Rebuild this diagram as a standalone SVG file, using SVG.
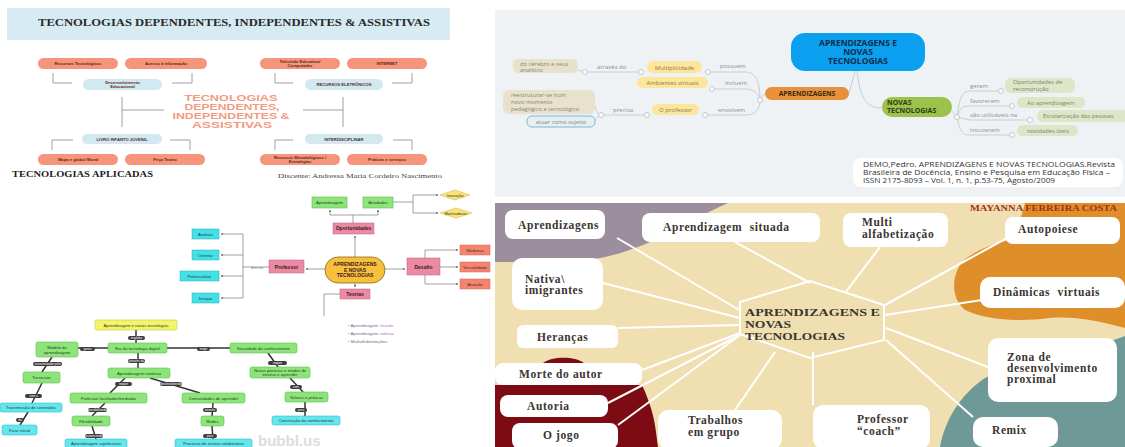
<svg xmlns="http://www.w3.org/2000/svg" width="1125" height="447" viewBox="0 0 1125 447">
<style>
.sal{fill:#f6957c}
.lb{fill:#d3e9f1}
.pt{font-family:"Liberation Sans",Arial,sans-serif;font-weight:bold;font-size:4.2px;fill:#5a2a1a;text-anchor:middle}
.br{fill:none;stroke:#a0a0a0;stroke-width:1}
.mm{fill:none;stroke:#c9ced2;stroke-width:1}
.dot{fill:#fff;stroke:#c3c8cc;stroke-width:1}
.lbl{font-family:"Open Sans","Liberation Sans",sans-serif;font-size:6px;fill:#8a8f94}
.yel{fill:#fde59a}
.ytx{font-family:"Open Sans","Liberation Sans",sans-serif;font-size:6px;fill:#8a7a50;text-anchor:middle}
.bei{fill:#e8e2cc}
.btx{font-family:"Open Sans","Liberation Sans",sans-serif;font-size:5.8px;fill:#8a8470}
.gn{fill:#dfe6c8}
.gtx{font-family:"Open Sans","Liberation Sans",sans-serif;font-size:5.8px;fill:#7a7f70}
.wn{fill:#fff}
.wt{font-family:"Liberation Serif","Times New Roman",serif;font-weight:bold;font-size:11.5px;fill:#3b3530;letter-spacing:0.6px}
.sp{stroke:#fff;stroke-width:2;fill:none}
.cl{stroke:#7a7a7a;stroke-width:0.7;fill:none}
.pk{fill:#ea8aa3;stroke:#c06080;stroke-width:0.5}
.cy{fill:#44e0e8;stroke:#20b0c0;stroke-width:0.5}
.rd{fill:#f7826f;stroke:#d06050;stroke-width:0.5}
.gr{fill:#8de57a;stroke:#5cbf4a;stroke-width:0.6}
.tc{fill:#63e6ee;stroke:#36bcd0;stroke-width:0.6}
.t4{font-family:"Liberation Sans",Arial,sans-serif;font-size:4.2px;fill:#2a3a2a;text-anchor:middle}
.t5b{font-family:"Liberation Sans",Arial,sans-serif;font-size:5px;font-weight:bold;fill:#3a1a22;text-anchor:middle}
.pl{fill:#3d3d3d}
.plt{font-family:"Liberation Sans",Arial,sans-serif;font-size:3.2px;fill:#fff;text-anchor:middle}
.ln{stroke:#333;stroke-width:1.5;fill:none}
</style>
<defs>
<marker id="ah" viewBox="0 0 6 6" refX="5" refY="3" markerWidth="4" markerHeight="4" orient="auto">
<path d="M0,0 L6,3 L0,6 Z" fill="#777"/>
</marker>
</defs>
<rect width="1125" height="447" fill="#ffffff"/>

<!-- ===== Panel 1: top-left ===== -->
<g id="panel-tl">
<rect x="7" y="8" width="443" height="32" fill="#d6ebf2"/>
<text x="234" y="26" font-family="Liberation Serif,serif" font-weight="bold" font-size="9.5" text-anchor="middle" textLength="392" lengthAdjust="spacingAndGlyphs" fill="#2a2a2a">TECNOLOGIAS DEPENDENTES, INDEPENDENTES &amp; ASSISTIVAS</text>
<g id="tl-connectors">
<path class="br" d="M53,73 V83 H72 M192,73 V83 H172 M122,97 V127 M122,110 H164"/>
<path class="br" d="M275,73 V83 H293 M412,73 V83 H392 M343,97 V127 M303,110 H343"/>
<path class="br" d="M52,150 V140 H73 M190,150 V140 H170"/>
<path class="br" d="M275,150 V140 H293 M412,150 V140 H393"/>
</g>
<g id="tl-recursos"><rect class="sal" x="38" y="58" width="80" height="11" rx="5.5"/><text class="pt" x="78" y="65">Recursos Tecnológicos</text></g>
<g id="tl-acesso"><rect class="sal" x="125" y="58" width="82" height="11" rx="5.5"/><text class="pt" x="166" y="65">Acesso à informação</text></g>
<g id="tl-desenv"><rect class="lb" x="83" y="79" width="79" height="11" rx="5.5"/><text class="pt" x="122.5" y="83.8">Desenvolvimento</text><text class="pt" x="122.5" y="88.3">Educacional</text></g>
<g id="tl-tv"><rect class="sal" x="260" y="58" width="80" height="11" rx="5.5"/><text class="pt" x="300" y="62.6">Televisão Educativa/</text><text class="pt" x="300" y="67">Computador</text></g>
<g id="tl-internet"><rect class="sal" x="347" y="58" width="80" height="11" rx="5.5"/><text class="pt" x="387" y="65">INTERNET</text></g>
<g id="tl-eletr"><rect class="lb" x="305" y="79" width="78" height="11" rx="5.5"/><text class="pt" x="344" y="86">RECURSOS ELETRÔNICOS</text></g>
<g id="tl-center" font-family="Liberation Sans,Arial,sans-serif" font-weight="bold" font-size="9" fill="#f39a80" text-anchor="middle">
<text x="231" y="101" textLength="93" lengthAdjust="spacingAndGlyphs">TECNOLOGIAS</text>
<text x="232" y="110" textLength="95" lengthAdjust="spacingAndGlyphs">DEPENDENTES,</text>
<text x="231" y="119" textLength="117" lengthAdjust="spacingAndGlyphs">INDEPENDENTES &amp;</text>
<text x="232" y="127.5" textLength="80" lengthAdjust="spacingAndGlyphs">ASSISTIVAS</text>
</g>
<g id="tl-livro"><rect class="lb" x="82" y="134" width="80" height="10" rx="5"/><text class="pt" x="122" y="140.5">LIVRO INFANTO JUVENIL</text></g>
<g id="tl-inter"><rect class="lb" x="305" y="134" width="78" height="10" rx="5"/><text class="pt" x="344" y="140.5">INTERDISCIPLINAR</text></g>
<g id="tl-mapa"><rect class="sal" x="38" y="154" width="80" height="11" rx="5.5"/><text class="pt" x="78" y="161">Mapa e globo/ Mural</text></g>
<g id="tl-peca"><rect class="sal" x="125" y="154" width="80" height="11" rx="5.5"/><text class="pt" x="165" y="161">Peça Teatro</text></g>
<g id="tl-metod"><rect class="sal" x="260" y="154" width="80" height="11" rx="5.5"/><text class="pt" x="300" y="158.6">Recursos Metodológicos /</text><text class="pt" x="300" y="163">Estratégias</text></g>
<g id="tl-praticas"><rect class="sal" x="347" y="154" width="80" height="11" rx="5.5"/><text class="pt" x="387" y="161">Práticas e serviços</text></g>
<text x="12" y="177" font-family="Liberation Serif,serif" font-weight="bold" font-size="8" textLength="141" lengthAdjust="spacingAndGlyphs" fill="#222">TECNOLOGIAS APLICADAS</text>
<text x="278" y="178" font-family="Liberation Serif,serif" font-size="6.5" textLength="164" lengthAdjust="spacingAndGlyphs" fill="#444">Discente: Andressa Maria Cordeiro Nascimento</text>
</g>

<!-- ===== Panel 2: top-right mind map ===== -->
<g id="panel-tr">
<rect x="495" y="10" width="630" height="187" fill="#eef2f5"/>
<g id="tr-connectors">
<path class="mm" d="M855,71 C853,80 851,86 849,93"/>
<path class="mm" d="M857,71 C860,95 864,108 882,108"/>
<path class="mm" d="M765,94 C762,96 760,98 760,100"/>
<path class="mm" d="M760,100 C760,80 755,72 745,72 L708,72"/>
<path class="mm" d="M760,100 C759,93 753,89 745,89 L712,89"/>
<path class="mm" d="M760,100 C760,110 755,115 745,115 L705,115"/>
<path class="mm" d="M641,72 L585,72 L578,70"/>
<path class="mm" d="M647,115 L601,115 C597,115 596,110 595,105 M601,115 C597,116 596,119 595,121"/>
<path class="mm" d="M952,111 L957,117"/>
<path class="mm" d="M957,117 C960,96 962,91 970,91 L1001,91"/>
<path class="mm" d="M957,117 C960,108 962,106 970,106 L1012,106"/>
<path class="mm" d="M957,117 L970,120 L1030,120"/>
<path class="mm" d="M957,117 C960,132 962,135 970,135 L1012,135"/>
<circle class="dot" cx="708" cy="72" r="2.5"/><circle class="dot" cx="712" cy="89" r="2.5"/><circle class="dot" cx="705" cy="115" r="2.5"/>
<circle class="dot" cx="760" cy="100" r="2.5"/><circle class="dot" cx="641" cy="72" r="2.5"/><circle class="dot" cx="585" cy="72" r="2.5"/>
<circle class="dot" cx="647" cy="115" r="2.5"/><circle class="dot" cx="601" cy="115" r="2.5"/><circle class="dot" cx="957" cy="117" r="2.5"/>
<circle class="dot" cx="1001" cy="91" r="2.5"/><circle class="dot" cx="1012" cy="106" r="2.5"/><circle class="dot" cx="1030" cy="120" r="2.5"/><circle class="dot" cx="1012" cy="135" r="2.5"/>
<text class="lbl" x="720" y="68">possuem</text>
<text class="lbl" x="725" y="85">incluem</text>
<text class="lbl" x="718" y="112">envolvem</text>
<text class="lbl" x="597" y="69">através do</text>
<text class="lbl" x="613" y="112">precisa</text>
<text class="lbl" x="970" y="88">geram</text>
<text class="lbl" x="970" y="103">favorecem</text>
<text class="lbl" x="970" y="117">são utilizáveis na</text>
<text class="lbl" x="970" y="132">trouxeram</text>
</g>
<g id="tr-central"><rect x="791" y="33" width="134" height="38" rx="14" fill="#0aa0ef"/>
<g font-family="Open Sans,Liberation Sans,sans-serif" font-weight="bold" font-size="8.5" fill="#0f2d47" text-anchor="middle"><text x="858" y="46">APRENDIZAGENS E</text><text x="858" y="55">NOVAS</text><text x="858" y="64">TECNOLOGIAS</text></g></g>
<g id="tr-aprend"><rect x="765" y="87" width="84" height="13" rx="6.5" fill="#e8913a"/><text x="807" y="96" font-family="Open Sans,Liberation Sans,sans-serif" font-weight="bold" font-size="6.8" fill="#3a2a10" text-anchor="middle">APRENDIZAGENS</text></g>
<g id="tr-novas"><rect x="882" y="97" width="70" height="20" rx="10" fill="#9bc24a"/><g font-family="Open Sans,Liberation Sans,sans-serif" font-weight="bold" font-size="7" fill="#2b3a1a"><text x="887" y="105">NOVAS</text><text x="887" y="113">TECNOLOGIAS</text></g></g>
<g id="tr-mult"><rect class="yel" x="647" y="61" width="55" height="12" rx="6"/><text class="ytx" x="674.5" y="69.5">Multiplicidade</text></g>
<g id="tr-amb"><rect class="yel" x="637" y="77" width="71" height="11" rx="5.5"/><text class="ytx" x="672.5" y="85">Ambientes virtuais</text></g>
<g id="tr-prof"><rect class="yel" x="652" y="104" width="47" height="11" rx="5.5"/><text class="ytx" x="675.5" y="112">O professor</text></g>
<g id="tr-cerebro"><rect class="bei" x="513" y="59" width="65" height="14" rx="5"/><text class="btx" x="520" y="65.5">do cérebro e seus</text><text class="btx" x="520" y="71.5">analítico</text></g>
<g id="tr-reestr"><rect class="bei" x="503" y="90" width="92" height="24" rx="6"/><text class="btx" x="511" y="97">reestruturar-se num</text><text class="btx" x="511" y="104">novo momento</text><text class="btx" x="511" y="111">pedagógico e tecnológico</text></g>
<g id="tr-atuar"><rect x="527" y="116" width="68" height="11" rx="5" fill="#e6f0f2" stroke="#79b8d8" stroke-width="1"/><text class="btx" x="561" y="123.5" text-anchor="middle">atuar como sujeito</text></g>
<g id="tr-oport"><rect class="gn" x="1005" y="78" width="70" height="15" rx="6"/><text class="gtx" x="1013" y="84">Oportunidades de</text><text class="gtx" x="1013" y="90.5">reconstrução</text></g>
<g id="tr-ao"><rect class="gn" x="1017" y="97" width="68" height="11" rx="5.5"/><text class="gtx" x="1027" y="104.5">Ao aprendizagem</text></g>
<g id="tr-escol"><rect class="gn" x="1037" y="110" width="92" height="12" rx="6"/><text class="gtx" x="1043" y="118">Escolarização das pessoas</text></g>
<g id="tr-novid"><rect class="gn" x="1017" y="125" width="61" height="11" rx="5.5"/><text class="gtx" x="1027" y="132.5">novidades úteis</text></g>
<g id="tr-cite"><rect x="853" y="158" width="270" height="29" rx="8" fill="#fff"/>
<g font-family="Open Sans,Liberation Sans,sans-serif" font-size="6.6" fill="#333"><text x="863" y="167" textLength="252" lengthAdjust="spacingAndGlyphs">DEMO,Pedro. APRENDIZAGENS E NOVAS TECNOLOGIAS.Revista</text><text x="863" y="175" textLength="247" lengthAdjust="spacingAndGlyphs">Brasileira de Docência, Ensino e Pesquisa em Educação Física –</text><text x="863" y="183" textLength="192" lengthAdjust="spacingAndGlyphs">ISSN 2175-8093 – Vol. 1, n. 1, p.53-75, Agosto/2009</text></g></g>
</g>

<!-- ===== Panel 3: bottom-left maps ===== -->
<g id="panel-bl">
<g id="bl-connectors">
<path class="cl" d="M355,257 V236" marker-end="url(#ah)"/>
<path class="cl" d="M353,223 V215 M330,215 H378"/>
<path class="cl" d="M330,215 V210" marker-end="url(#ah)"/>
<path class="cl" d="M378,215 V210" marker-end="url(#ah)"/>
<path class="cl" d="M393,202 H413 M413,195 V213"/>
<path class="cl" d="M413,195 H438" marker-end="url(#ah)"/>
<path class="cl" d="M413,213 H438" marker-end="url(#ah)"/>
<path class="cl" d="M325,269 H306" marker-end="url(#ah)"/>
<path class="cl" d="M269,267 H243 M243,234 V298"/>
<path class="cl" d="M243,234 H221" marker-end="url(#ah)"/>
<path class="cl" d="M243,255 H221" marker-end="url(#ah)"/>
<path class="cl" d="M243,276 H221" marker-end="url(#ah)"/>
<path class="cl" d="M243,298 H221" marker-end="url(#ah)"/>
<path class="cl" d="M385,269 H405" marker-end="url(#ah)"/>
<path class="cl" d="M425,258 V250 H458" marker-end="url(#ah)"/>
<path class="cl" d="M440,267 H458" marker-end="url(#ah)"/>
<path class="cl" d="M425,275 V284 H458" marker-end="url(#ah)"/>
<path class="cl" d="M355,283 V287" marker-end="url(#ah)"/>
<path class="cl" d="M340,294 H324 V316"/>
<text x="251" y="268.5" font-family="Liberation Sans,sans-serif" font-size="3.2" fill="#777">deve ser</text>
</g>
<g id="bl-center"><rect x="325" y="257" width="60" height="26" rx="13" fill="#f6c03c" stroke="#7a5a10" stroke-width="0.7"/><text class="t5b" x="355" y="266">APRENDIZAGENS</text><text class="t5b" x="355" y="271.5">E NOVAS</text><text class="t5b" x="355" y="277">TECNOLOGIAS</text></g>
<g id="bl-oport"><rect class="pk" x="333" y="223" width="41" height="11"/><text class="t5b" x="353.5" y="230.3">Oportunidades</text></g>
<g id="bl-aprend"><rect class="gr" x="312" y="197" width="35" height="11"/><text class="t4" x="329.5" y="204">Aprendizagem</text></g>
<g id="bl-ativ"><rect class="gr" x="363" y="197" width="30" height="11"/><text class="t4" x="378" y="204">Atividades</text></g>
<g id="bl-inov"><path d="M440,195 L455,190 L470,195 L455,200 Z" fill="#fde27a" stroke="#d6b040" stroke-width="0.5"/><text class="t4" x="455" y="196.5" font-size="3.6">Inovação</text></g>
<g id="bl-motiv"><path d="M440,213 L456,208 L472,213 L456,218 Z" fill="#fde27a" stroke="#d6b040" stroke-width="0.5"/><text class="t4" x="456" y="214.5" font-size="3.6">Motivadoras</text></g>
<g id="bl-prof"><rect class="pk" x="269" y="260" width="35" height="13"/><text class="t5b" x="286.5" y="268.5">Professor</text></g>
<g id="bl-c1"><rect class="cy" x="192" y="229" width="27" height="10"/><text class="t4" x="205.5" y="235.5">Analisar</text></g>
<g id="bl-c2"><rect class="cy" x="192" y="250" width="27" height="10"/><text class="t4" x="205.5" y="256.5">Orientar</text></g>
<g id="bl-c3"><rect class="cy" x="180" y="271" width="39" height="10"/><text class="t4" x="199.5" y="277.5">Potencializar</text></g>
<g id="bl-c4"><rect class="cy" x="192" y="293" width="27" height="10"/><text class="t4" x="205.5" y="299.5">Instigar</text></g>
<g id="bl-desafio"><rect class="pk" x="407" y="258" width="33" height="17"/><text class="t5b" x="423.5" y="268.5">Desafio</text></g>
<g id="bl-r1"><rect class="rd" x="460" y="245" width="30" height="10"/><text class="t4" x="475" y="251.5">Mudança</text></g>
<g id="bl-r2"><rect class="rd" x="460" y="262" width="30" height="10"/><text class="t4" x="475" y="268.5" font-size="3.8">Versatilidade</text></g>
<g id="bl-r3"><rect class="rd" x="460" y="279" width="30" height="10"/><text class="t4" x="475" y="285.5">Atuação</text></g>
<g id="bl-teorias"><rect class="pk" x="340" y="289" width="30" height="10"/><text class="t5b" x="355" y="295.8">Teorias</text></g>
<g id="bl-list" font-family="Liberation Sans,sans-serif" font-size="4.3" fill="#7a6a8a"><text x="348" y="327">• Aprendizagem <tspan fill="#b07ac8">situada</tspan></text><text x="348" y="335">• Aprendizagem <tspan fill="#b07ac8">coletiva</tspan></text><text x="348" y="343">• Multialfabetizações.</text></g>

<g id="cm-connectors">
<path class="ln" d="M136,330 V343 M108,348 H78 M167,348 H230 M52,357 L42,372 M42,383 L32,403 M28,412 L20,425 M138,353 V368 M125,378 L110,393 M150,378 L200,393 M105,403 L92,416 M213,403 L212,416 M92,426 L96,439 M212,426 L213,439 M268,353 L278,367 M290,378 L303,392 M305,402 L305,416"/>
<rect class="pl" x="128" y="336" width="17" height="4" rx="2"/><text class="plt" x="136.5" y="339">engloba</text>
<rect class="pl" x="80" y="347" width="15" height="4" rx="2"/><text class="plt" x="87.5" y="350">gerou</text>
<rect class="pl" x="197" y="347" width="13" height="4" rx="2"/><text class="plt" x="203.5" y="350">exige</text>
<rect class="pl" x="33" y="362" width="29" height="4" rx="2"/><text class="plt" x="47.5" y="365">caracterizado pelo</text>
<rect class="pl" x="25" y="394" width="17" height="4" rx="2"/><text class="plt" x="33.5" y="397">com a</text>
<rect class="pl" x="16" y="418" width="8" height="4" rx="2"/><text class="plt" x="20" y="421">da</text>
<rect class="pl" x="128" y="359" width="17" height="4" rx="2"/><text class="plt" x="136.5" y="362">através da</text>
<rect class="pl" x="115" y="382" width="17" height="4" rx="2"/><text class="plt" x="123.5" y="385">requer</text>
<rect class="pl" x="160" y="382" width="22" height="4" rx="2"/><text class="plt" x="171" y="385">desenvolvendo</text>
<rect class="pl" x="88" y="408" width="19" height="4" rx="2"/><text class="plt" x="97.5" y="411">possibilitando</text>
<rect class="pl" x="203" y="408" width="14" height="4" rx="2"/><text class="plt" x="210" y="411">através</text>
<rect class="pl" x="85" y="434" width="18" height="4" rx="2"/><text class="plt" x="94" y="437">favorecendo</text>
<rect class="pl" x="203" y="434" width="14" height="4" rx="2"/><text class="plt" x="210" y="437">para</text>
<rect class="pl" x="268" y="361" width="19" height="4" rx="2"/><text class="plt" x="277.5" y="364">requer</text>
<rect class="pl" x="290" y="385" width="12" height="4" rx="2"/><text class="plt" x="296" y="388">com</text>
<rect class="pl" x="295" y="408" width="12" height="4" rx="2"/><text class="plt" x="301" y="411">para</text>
</g>
<g id="cm-n1"><rect x="95" y="320" width="82" height="10" rx="2" fill="#f4f46a" stroke="#c9c940" stroke-width="0.6"/><text class="t4" x="136" y="326.5">Aprendizagem e novas tecnologias</text></g>
<g id="cm-n2"><rect class="gr" x="108" y="343" width="59" height="10" rx="2"/><text class="t4" x="137.5" y="349.5">Era da tecnologia digital</text></g>
<g id="cm-n3"><rect class="gr" x="36" y="342" width="42" height="15" rx="2"/><text class="t4" x="57" y="348.5">Modelo de</text><text class="t4" x="57" y="353.5">aprendizagem</text></g>
<g id="cm-n4"><rect class="gr" x="230" y="343" width="67" height="10" rx="2"/><text class="t4" x="263.5" y="349.5">Sociedade do conhecimento</text></g>
<g id="cm-n5"><rect class="gr" x="23" y="372" width="37" height="11" rx="2"/><text class="t4" x="41.5" y="379">Tecnicista</text></g>
<g id="cm-n6"><rect class="tc" x="0" y="403" width="62" height="9" rx="2"/><text class="t4" x="31" y="409">Transmissão de conteúdos</text></g>
<g id="cm-n7"><rect class="tc" x="2" y="425" width="35" height="10" rx="2"/><text class="t4" x="19.5" y="431.5">Fase inicial</text></g>
<g id="cm-n8"><rect class="gr" x="108" y="368" width="62" height="10" rx="2"/><text class="t4" x="139" y="374.5">Aprendizagem contínua</text></g>
<g id="cm-n9"><rect class="gr" x="70" y="393" width="77" height="10" rx="2"/><text class="t4" x="108.5" y="399.5">Professor facilitador/mediador</text></g>
<g id="cm-n10"><rect class="gr" x="182" y="393" width="63" height="10" rx="2"/><text class="t4" x="213.5" y="399.5">Comunidades de aprender</text></g>
<g id="cm-n11"><rect class="gr" x="72" y="416" width="38" height="10" rx="2"/><text class="t4" x="91" y="422.5">Flexibilidade</text></g>
<g id="cm-n12"><rect class="gr" x="201" y="416" width="23" height="10" rx="2"/><text class="t4" x="212.5" y="422.5">Redes</text></g>
<g id="cm-n13"><rect class="tc" x="65" y="439" width="62" height="10" rx="2"/><text class="t4" x="96" y="445">Aprendizagem significativa</text></g>
<g id="cm-n14"><rect class="tc" x="175" y="439" width="77" height="10" rx="2"/><text class="t4" x="213.5" y="445">Processo de ensino colaborativo</text></g>
<g id="cm-n15"><rect class="gr" x="250" y="367" width="60" height="11" rx="2"/><text class="t4" x="280" y="371.5" font-size="3.6">Novas posturas e modos de</text><text class="t4" x="280" y="376" font-size="3.6">ensinar e aprender</text></g>
<g id="cm-n16"><rect class="gr" x="285" y="392" width="43" height="10" rx="2"/><text class="t4" x="306.5" y="398.5">Valores e práticas</text></g>
<g id="cm-n17"><rect class="tc" x="272" y="416" width="68" height="9" rx="2"/><text class="t4" x="306" y="422">Construção do conhecimento</text></g>
<text x="258" y="446" font-family="Liberation Sans,sans-serif" font-weight="bold" font-size="15" fill="#d4d8dc" opacity="0.85">bubbl.us</text>
</g>

<!-- ===== Panel 4: bottom-right ===== -->
<g id="panel-br">
<rect x="495" y="203" width="630" height="244" fill="#efdfb1"/>
<path d="M495,203 L728,203 C700,215 675,232 648,243 C620,255 590,262 560,262 L495,262 Z" fill="#9d8e9e"/>
<path d="M495,385 L642,385 C648,398 652,410 654,420 C656,430 657,440 658,447 L495,447 Z" fill="#7c0b14"/>
<path d="M543,363 C552,356 575,356 584,363 Z" fill="#7c0b14"/>
<path d="M1025,203 L1125,203 L1125,328 C1100,322 1080,316 1050,318 C1020,322 985,320 965,310 C950,298 952,275 962,262 C975,250 995,243 1010,240 C1018,228 1022,215 1025,203 Z" fill="#df8f2a"/>
<path d="M940,447 C945,420 960,395 985,378 C1010,365 1060,360 1125,336 L1125,447 Z" fill="#6f9996"/>
<g id="br-connectors">
<path class="sp" d="M740,302 L810,281 L884,305 L884,340 L810,358 L740,334 Z"/>
<path class="sp" d="M617,238 L741,311 M735,242 L810,283 M880,247 L845,293 M1007,238 L885,305 M982,300 L885,315 M603,283 L740,318 M618,328 L740,325 M642,370 L740,333 M608,403 L740,335 M618,425 L740,335 M735,410 L775,352 M813,405 L813,352 M988,367 L886,328 M973,417 L886,340"/>
</g>
<g id="br-center" font-family="Liberation Serif,serif" font-weight="bold" font-size="11" fill="#3b3530"><text x="745" y="316" textLength="135" lengthAdjust="spacingAndGlyphs">APRENDIZAGENS E</text><text x="745" y="328" textLength="46" lengthAdjust="spacingAndGlyphs">NOVAS</text><text x="745" y="340" textLength="100" lengthAdjust="spacingAndGlyphs">TECNOLOGIAS</text></g>
<g id="br-n1"><rect class="wn" x="505" y="210" width="100" height="29" rx="8"/><text class="wt" x="518" y="229">Aprendizagens</text></g>
<g id="br-n2"><rect class="wn" x="642" y="213" width="178" height="29" rx="8"/><text class="wt" x="663" y="231" word-spacing="4">Aprendizagem situada</text></g>
<g id="br-n3"><rect class="wn" x="843" y="213" width="105" height="34" rx="8"/><text class="wt" x="862" y="226">Multi</text><text class="wt" x="862" y="238">alfabetização</text></g>
<g id="br-n4"><rect class="wn" x="1005" y="217" width="115" height="27" rx="8"/><text class="wt" x="1018" y="233">Autopoiese</text></g>
<g id="br-n5"><rect class="wn" x="980" y="277" width="145" height="31" rx="10"/><text class="wt" x="993" y="296" word-spacing="4">Dinâmicas virtuais</text></g>
<g id="br-n6"><rect class="wn" x="512" y="258" width="91" height="52" rx="10"/><text class="wt" x="525" y="283">Nativa\</text><text class="wt" x="525" y="294">imigrantes</text></g>
<g id="br-n7"><rect class="wn" x="517" y="325" width="101" height="23" rx="6"/><text class="wt" x="537" y="341">Heranças</text></g>
<g id="br-n8"><rect class="wn" x="495" y="363" width="147" height="22" rx="8"/><text class="wt" x="519" y="378">Morte do autor</text></g>
<g id="br-n9"><rect class="wn" x="500" y="395" width="108" height="22" rx="8"/><text class="wt" x="527" y="410">Autoria</text></g>
<g id="br-n10"><rect class="wn" x="512" y="423" width="106" height="26" rx="8"/><text class="wt" x="543" y="439">O jogo</text></g>
<g id="br-n11"><rect class="wn" x="658" y="410" width="124" height="39" rx="10"/><text class="wt" x="688" y="424">Trabalhos</text><text class="wt" x="688" y="436">em grupo</text></g>
<g id="br-n12"><rect class="wn" x="813" y="405" width="117" height="44" rx="10"/><text class="wt" x="857" y="423">Professor</text><text class="wt" x="857" y="435">“coach”</text></g>
<g id="br-n13"><rect class="wn" x="988" y="338" width="129" height="64" rx="10"/><text class="wt" x="1007" y="361">Zona de</text><text class="wt" x="1007" y="372">desenvolvimento</text><text class="wt" x="1007" y="383">proximal</text></g>
<g id="br-n14"><rect class="wn" x="973" y="417" width="85" height="30" rx="10"/><text class="wt" x="992" y="434">Remix</text></g>
<text x="970" y="211" font-family="Liberation Serif,serif" font-weight="bold" font-size="8.5" fill="#a3301b" textLength="147" lengthAdjust="spacingAndGlyphs">MAYANNA FERREIRA COSTA</text>
</g>
</svg>
